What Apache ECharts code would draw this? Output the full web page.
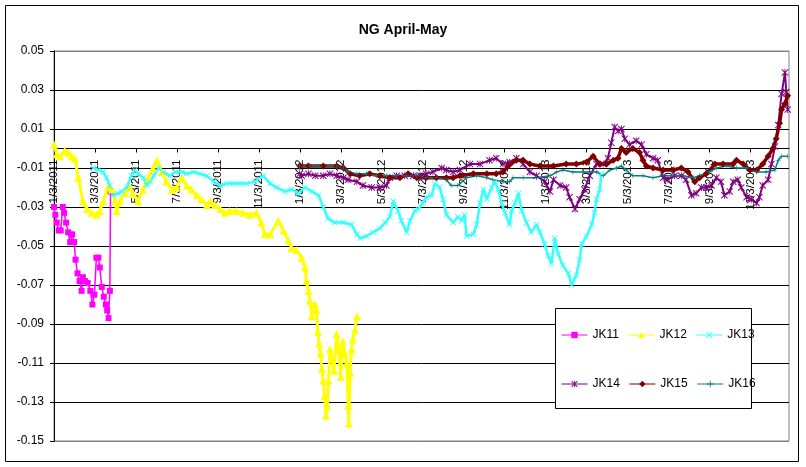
<!DOCTYPE html>
<html>
<head>
<meta charset="utf-8">
<script src="https://cdn.jsdelivr.net/npm/echarts@6/dist/echarts.min.js"></script>
<style>
  html, body { margin: 0; padding: 0; background: #fff; }
  #chart { width: 806px; height: 467px; }
</style>
</head>
<body>
<div id="chart"></div>
<script>
// x = calendar days since 1/3/2011
var xTickLabels = ['1/3/2011', '3/3/2011', '5/3/2011', '7/3/2011', '9/3/2011', '11/3/2011',
    '1/3/2012', '3/3/2012', '5/3/2012', '7/3/2012', '9/3/2012', '11/3/2012',
    '1/3/2013', '3/3/2013', '5/3/2013', '7/3/2013', '9/3/2013', '11/3/2013'];
var seriesNames = ['JK11', 'JK12', 'JK13', 'JK14', 'JK15', 'JK16'];

var jk11 = [[0,-0.030],[2,-0.034],[4,-0.038],[7,-0.042],[10,-0.042],[13,-0.030],[15,-0.033],[18,-0.038],
    [21,-0.043],[24,-0.048],[27,-0.044],[30,-0.048],[32,-0.057],[35,-0.064],[38,-0.068],[41,-0.073],
    [43,-0.066],[46,-0.068],[50,-0.069],[54,-0.073],[57,-0.080],[60,-0.075],[63,-0.056],[66,-0.056],
    [68,-0.061],[71,-0.071],[74,-0.076],[77,-0.080],[79,-0.083],[81,-0.087],[83,-0.073],[84,-0.022]];

var jk12 = [[0,0.002],[4,-0.003],[9,-0.004],[16,-0.001],[21,-0.002],[26,-0.004],[31,-0.005],[36,-0.015],
    [43,-0.027],[49,-0.031],[56,-0.033],[63,-0.034],[68,-0.032],[73,-0.027],[80,-0.020],[86,-0.021],
    [91,-0.027],[93,-0.032],[98,-0.027],[105,-0.023],[113,-0.020],[117,-0.023],[125,-0.027],[132,-0.021],
    [140,-0.015],[147,-0.010],[153,-0.006],[160,-0.012],[167,-0.017],[175,-0.021],[182,-0.020],[190,-0.015],
    [197,-0.019],[204,-0.021],[212,-0.024],[219,-0.026],[227,-0.029],[232,-0.027],[239,-0.029],[247,-0.031],
    [254,-0.033],[261,-0.032],[271,-0.032],[281,-0.033],[291,-0.034],[301,-0.033],[308,-0.038],[313,-0.044],
    [321,-0.044],[333,-0.037],[341,-0.042],[348,-0.047],[353,-0.051],[360,-0.052],[368,-0.056],[373,-0.061],
    [375,-0.068],[378,-0.073],[380,-0.078],[383,-0.086],[386,-0.081],[388,-0.080],[390,-0.083],[392,-0.094],
    [394,-0.100],[396,-0.105],[398,-0.113],[400,-0.119],[402,-0.127],[404,-0.137],[406,-0.132],[408,-0.119],
    [410,-0.103],[413,-0.108],[416,-0.114],[420,-0.095],[423,-0.103],[426,-0.117],[429,-0.099],[432,-0.105],
    [435,-0.110],[437,-0.132],[438,-0.141],[440,-0.115],[442,-0.103],[444,-0.098],[447,-0.093],[450,-0.086]];

var jk13 = [[58,-0.010],[66,-0.011],[73,-0.012],[78,-0.015],[83,-0.019],[88,-0.024],[95,-0.023],[101,-0.022],
    [108,-0.020],[115,-0.014],[120,-0.011],[125,-0.013],[133,-0.015],[138,-0.019],[143,-0.017],[148,-0.014],
    [155,-0.010],[162,-0.012],[172,-0.014],[180,-0.012],[190,-0.012],[197,-0.013],[207,-0.012],[217,-0.013],
    [227,-0.014],[237,-0.017],[247,-0.019],[256,-0.018],[266,-0.018],[276,-0.018],[286,-0.018],[298,-0.017],
    [311,-0.014],[321,-0.018],[331,-0.020],[343,-0.022],[353,-0.021],[363,-0.023],[373,-0.020],[383,-0.022],
    [393,-0.024],[400,-0.030],[407,-0.036],[417,-0.038],[430,-0.038],[442,-0.039],[450,-0.044],[455,-0.046],
    [464,-0.045],[474,-0.043],[484,-0.041],[492,-0.038],[499,-0.035],[504,-0.027],[511,-0.032],[516,-0.037],
    [524,-0.043],[529,-0.037],[536,-0.032],[541,-0.031],[548,-0.028],[553,-0.025],[561,-0.024],[566,-0.018],
    [573,-0.020],[578,-0.026],[583,-0.034],[593,-0.038],[600,-0.035],[606,-0.037],[610,-0.034],[613,-0.045],
    [623,-0.044],[628,-0.039],[633,-0.028],[638,-0.021],[643,-0.026],[650,-0.020],[655,-0.017],[660,-0.021],
    [665,-0.028],[670,-0.033],[677,-0.039],[680,-0.032],[685,-0.028],[690,-0.023],[695,-0.032],[702,-0.038],
    [709,-0.043],[717,-0.039],[722,-0.043],[729,-0.049],[734,-0.055],[739,-0.059],[744,-0.046],[749,-0.054],
    [756,-0.060],[764,-0.064],[769,-0.070],[776,-0.065],[781,-0.057],[784,-0.049],[791,-0.045],[799,-0.039],
    [803,-0.033],[806,-0.026],[811,-0.021],[813,-0.013]];

var jk14 = [[365,-0.013],[368,-0.014],[378,-0.013],[388,-0.014],[400,-0.014],[410,-0.013],[420,-0.014],
    [430,-0.015],[437,-0.016],[450,-0.017],[459,-0.019],[472,-0.020],[484,-0.020],[494,-0.019],[499,-0.015],
    [509,-0.014],[521,-0.014],[534,-0.014],[544,-0.014],[553,-0.013],[563,-0.012],[576,-0.010],[583,-0.011],
    [593,-0.012],[603,-0.011],[618,-0.008],[633,-0.008],[647,-0.006],[657,-0.005],[667,-0.008],[677,-0.007],
    [687,-0.005],[697,-0.008],[707,-0.012],[717,-0.014],[729,-0.017],[737,-0.022],[742,-0.016],[752,-0.019],
    [761,-0.020],[766,-0.025],[774,-0.031],[781,-0.026],[788,-0.021],[796,-0.014],[806,-0.008],[816,-0.008],
    [823,-0.005],[828,0.003],[833,0.011],[838,0.009],[843,0.010],[848,0.005],[855,0.002],[865,0.004],
    [873,0.002],[880,-0.003],[890,-0.005],[897,-0.006],[905,-0.015],[912,-0.016],[922,-0.014],[932,-0.014],
    [939,-0.016],[947,-0.024],[954,-0.023],[962,-0.020],[969,-0.020],[977,-0.019],[984,-0.015],[991,-0.017],
    [996,-0.024],[1004,-0.022],[1009,-0.017],[1016,-0.016],[1021,-0.020],[1029,-0.025],[1036,-0.026],
    [1044,-0.028],[1048,-0.025],[1053,-0.019],[1061,-0.016],[1066,-0.008],[1071,0.001],[1076,0.012],
    [1081,0.028],[1086,0.039],[1088,0.029],[1090,0.020]];

var jk15 = [[365,-0.009],[378,-0.009],[400,-0.009],[420,-0.009],[430,-0.010],[440,-0.013],[454,-0.014],
    [469,-0.013],[484,-0.014],[499,-0.015],[514,-0.015],[526,-0.013],[539,-0.015],[553,-0.015],[568,-0.015],
    [583,-0.015],[593,-0.015],[603,-0.014],[623,-0.013],[643,-0.013],[657,-0.013],[667,-0.012],[675,-0.009],
    [687,-0.006],[697,-0.006],[707,-0.008],[722,-0.009],[742,-0.009],[761,-0.008],[776,-0.008],[791,-0.007],
    [801,-0.004],[811,-0.008],[821,-0.008],[831,-0.006],[838,-0.005],[843,0.000],[850,-0.002],[860,0.000],
    [870,-0.002],[875,-0.006],[880,-0.009],[890,-0.010],[905,-0.011],[920,-0.011],[932,-0.010],[942,-0.012],
    [952,-0.017],[959,-0.015],[969,-0.013],[982,-0.008],[994,-0.008],[1009,-0.008],[1014,-0.006],
    [1024,-0.008],[1034,-0.011],[1044,-0.011],[1053,-0.008],[1061,-0.004],[1068,0.000],[1073,0.005],
    [1078,0.013],[1081,0.020],[1086,0.023],[1090,0.027]];

var jk16 = [[365,-0.009],[380,-0.009],[395,-0.009],[410,-0.009],[420,-0.009],[430,-0.010],[437,-0.012],
    [450,-0.013],[464,-0.013],[479,-0.014],[494,-0.014],[509,-0.014],[524,-0.014],[539,-0.014],[553,-0.015],
    [568,-0.015],[583,-0.016],[590,-0.019],[600,-0.019],[613,-0.015],[628,-0.014],[643,-0.015],[652,-0.016],
    [667,-0.017],[677,-0.017],[682,-0.015],[697,-0.015],[717,-0.015],[737,-0.014],[747,-0.012],[756,-0.011],
    [771,-0.012],[786,-0.012],[796,-0.012],[806,-0.012],[816,-0.014],[826,-0.011],[836,-0.010],[843,-0.009],
    [850,-0.011],[860,-0.014],[875,-0.014],[890,-0.015],[905,-0.014],[920,-0.014],[935,-0.014],[950,-0.015],
    [959,-0.014],[974,-0.012],[984,-0.010],[999,-0.009],[1014,-0.010],[1029,-0.010],[1044,-0.012],
    [1058,-0.012],[1071,-0.011],[1076,-0.006],[1081,-0.004],[1090,-0.004]];

var FONT = '"Liberation Sans", Arial, sans-serif';
var X_STEP = 60.88;
var Y_MIN = -0.15, Y_MAX = 0.05;
var GRID_TOP = 51, GRID_BOTTOM = 26, CHART_H = 467;

// pull the date axis up so it sits on the y = 0 line, like the Excel chart
var plotH = CHART_H - GRID_TOP - GRID_BOTTOM;
var zeroLift = plotH * (0 - Y_MIN) / (Y_MAX - Y_MIN);

// marker shapes
var xMark = 'path://M0,1L1,0L5,4L9,0L10,1L6,5L10,9L9,10L5,6L1,10L0,9L4,5Z';
var starMark = 'path://M0,1L1,0L5,4L9,0L10,1L6,5L10,9L9,10L5,6L1,10L0,9L4,5Z M4.4,0H5.6V10H4.4Z';
var plusMark = 'path://M4.4,0H5.6V4.4H10V5.6H5.6V10H4.4V5.6H0V4.4H4.4Z';

function makeLine(name, data, color, symbol, size, width) {
    return {
        name: name,
        type: 'line',
        data: data,
        color: color,
        symbol: symbol,
        symbolSize: size,
        showAllSymbol: true,
        lineStyle: { width: width, color: color },
        itemStyle: { color: color },
        emphasis: { disabled: true }
    };
}

var chart = echarts.init(document.getElementById('chart'));

var legendCommon = {
    left: 561,
    padding: 0,
    itemWidth: 26, itemHeight: 8, itemGap: 9,
    lineStyle: { width: 1 },
    textStyle: { fontFamily: FONT, fontSize: 12, color: '#000' },
    z: 10
};

var option = {
    animation: false,
    backgroundColor: '#fff',
    title: {
        text: 'NG April-May',
        left: 'center',
        top: 18,
        textStyle: { fontFamily: FONT, fontSize: 14, fontWeight: 'bold', color: '#000' }
    },
    grid: {
        left: 54, right: 17, top: GRID_TOP, bottom: GRID_BOTTOM,
        containLabel: false,
        outerBoundsMode: 'none',
        show: true,
        borderColor: '#808080',
        borderWidth: 1
    },
    legend: [
        Object.assign({ data: seriesNames.slice(0, 3), top: 329 }, legendCommon),
        Object.assign({ data: seriesNames.slice(3), top: 378 }, legendCommon)
    ],
    xAxis: {
        type: 'value',
        min: 0,
        max: 1092,
        interval: X_STEP,
        offset: -zeroLift,
        axisLine: { onZero: false, lineStyle: { color: '#000', width: 1 } },
        axisTick: { show: true, length: 4, lineStyle: { color: '#000' } },
        axisLabel: {
            rotate: 90,
            margin: 11,
            fontFamily: FONT,
            fontSize: 11.5,
            color: '#000',
            showMaxLabel: false,
            formatter: function (v) {
                return xTickLabels[Math.round(v / X_STEP)] || '';
            }
        },
        splitLine: { show: false }
    },
    yAxis: {
        type: 'value',
        min: Y_MIN,
        max: Y_MAX,
        interval: 0.02,
        axisLine: { show: true, lineStyle: { color: '#000', width: 1 } },
        axisTick: { show: true, length: 4, lineStyle: { color: '#000' } },
        axisLabel: {
            margin: 10,
            fontFamily: FONT,
            fontSize: 12,
            color: '#000',
            formatter: function (v) { return v.toFixed(2); }
        },
        splitLine: {
            lineStyle: {
                color: ['#808080', '#000', '#000', '#000', '#000', '#000', '#000', '#000', '#000', '#000', '#808080'],
                width: 1
            }
        }
    },
    graphic: [
        {
            type: 'rect', z: 9,
            shape: { x: 555.5, y: 308.5, width: 196, height: 100 },
            style: { fill: '#fff', stroke: '#000', lineWidth: 1 }
        },
        {
            type: 'rect', z: 20,
            shape: { x: 5.5, y: 5.5, width: 793, height: 456 },
            style: { fill: 'none', stroke: '#000', lineWidth: 1 }
        }
    ],
    series: [
        makeLine('JK11', jk11, '#FF00FF', 'rect', 6, 1.5),
        makeLine('JK12', jk12, '#FFFF00', 'triangle', 8, 3),
        makeLine('JK13', jk13, '#33FFFF', xMark, 6, 2.5),
        makeLine('JK14', jk14, '#800080', starMark, 7, 2),
        makeLine('JK15', jk15, '#800000', 'diamond', 7, 3.5),
        makeLine('JK16', jk16, '#008080', plusMark, 5, 1.5)
    ]
};

chart.setOption(option);
</script>
</body>
</html>
